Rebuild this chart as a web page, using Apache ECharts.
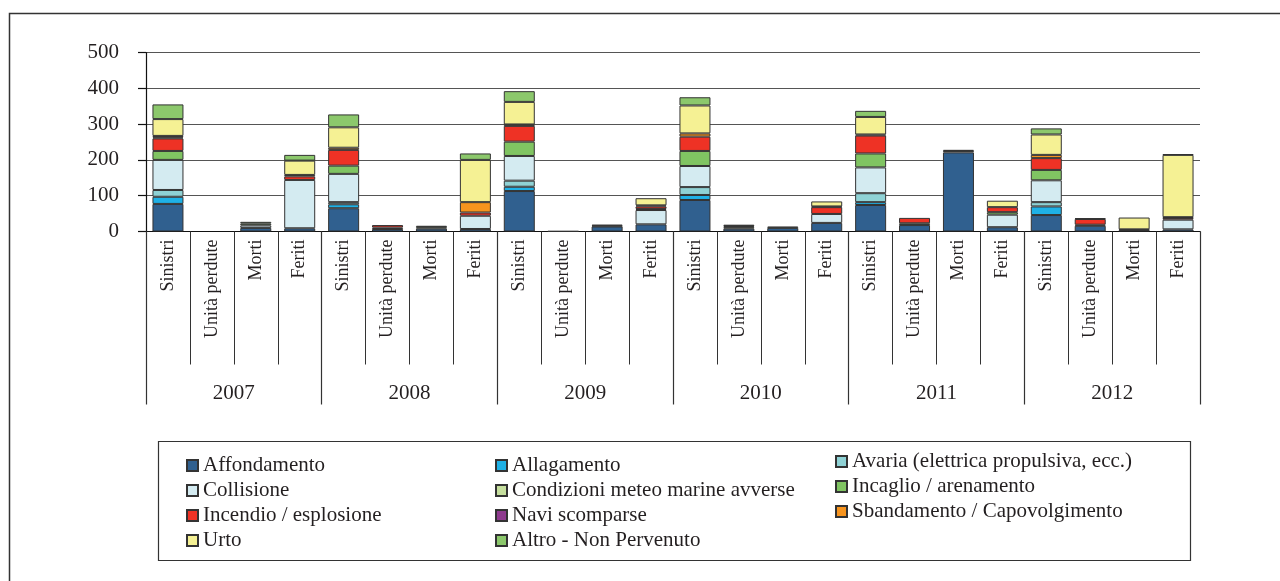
<!DOCTYPE html>
<html>
<head>
<meta charset="utf-8">
<script src="https://cdn.jsdelivr.net/npm/echarts@6/dist/echarts.min.js"></script>
<style>
  html, body { margin: 0; padding: 0; background: #fff; }
  #chart { width: 1280px; height: 581px; }
</style>
</head>
<body>
<div id="chart"></div>
<script>
const years = ["2007", "2008", "2009", "2010", "2011", "2012"];
const kinds = ["Sinistri", "Unità perdute", "Morti", "Feriti"];
const categories = years.flatMap(() => kinds);

const affondamento = [77, 0, 10, 9, 65, 7, 8, 7, 113, 1, 14, 20, 88, 8, 10, 24, 74, 18, 221, 12, 46, 16, 4, 6];
const allagamento = [20, 0, 0, 0, 11, 0, 0, 0, 12, 0, 0, 0, 14, 0, 0, 0, 8, 0, 0, 0, 24, 0, 0, 0];
const avaria = [19, 0, 0, 0, 6, 0, 0, 0, 17, 0, 0, 0, 22, 0, 0, 0, 25, 0, 0, 0, 12, 0, 0, 0];
const collisione = [84, 0, 7, 135, 79, 4, 0, 37, 69, 0, 2, 40, 59, 0, 0, 25, 72, 0, 0, 35, 61, 0, 2, 27];
const condizioni = [0, 0, 0, 0, 0, 0, 0, 0, 0, 0, 0, 0, 0, 0, 0, 0, 0, 0, 0, 0, 0, 0, 0, 0];
const incaglio = [25, 0, 5, 0, 23, 0, 4, 0, 40, 0, 0, 3, 42, 4, 0, 0, 39, 5, 4, 7, 29, 3, 0, 0];
const incendio = [35, 0, 0, 10, 44, 7, 0, 9, 44, 0, 0, 7, 40, 0, 0, 19, 50, 15, 0, 14, 33, 16, 0, 5];
const naviScomparse = [3, 0, 0, 0, 0, 0, 0, 0, 0, 0, 0, 0, 0, 3, 0, 2, 3, 0, 3, 0, 0, 0, 0, 0];
const sbandamento = [4, 0, 0, 4, 6, 0, 0, 29, 4, 0, 0, 3, 9, 0, 0, 0, 0, 0, 0, 0, 9, 0, 0, 2];
const urto = [47, 0, 0, 40, 57, 0, 0, 118, 63, 0, 0, 20, 78, 0, 0, 14, 49, 0, 0, 18, 57, 0, 33, 174];
const altro = [41, 0, 5, 16, 36, 0, 4, 18, 30, 0, 3, 0, 23, 4, 4, 0, 17, 0, 0, 0, 17, 2, 0, 2];

const yTicks = [0, 100, 200, 300, 400, 500];

const seriesDefs = [
  ["Affondamento", affondamento, "#30608f"],
  ["Allagamento", allagamento, "#1fb1e6"],
  ["Avaria (elettrica propulsiva, ecc.)", avaria, "#8fd2d5"],
  ["Collisione", collisione, "#d4ebf1"],
  ["Condizioni meteo marine avverse", condizioni, "#c6df9e"],
  ["Incaglio / arenamento", incaglio, "#80c462"],
  ["Incendio / esplosione", incendio, "#ee3225"],
  ["Navi scomparse", naviScomparse, "#8e3a8e"],
  ["Sbandamento / Capovolgimento", sbandamento, "#f7941e"],
  ["Urto", urto, "#f5f194"],
  ["Altro - Non Pervenuto", altro, "#8cc86c"]
];

const font = "Liberation Serif";
const ink = "#231f20";

const legendBase = {
  orient: "vertical",
  icon: "rect",
  padding: 0,
  itemWidth: 11,
  itemHeight: 11,
  itemGap: 4,
  selectedMode: false,
  textStyle: { fontFamily: font, fontSize: 21, color: ink, lineHeight: 20 }
};

const chart = echarts.init(document.getElementById("chart"));

chart.setOption({
  animation: false,
  backgroundColor: "#fff",
  graphic: [
    {
      type: "rect",
      shape: { x: 9.5, y: 13.5, width: 1300, height: 620 },
      style: { fill: null, stroke: "#333", lineWidth: 1.5 }
    },
    {
      type: "rect",
      shape: { x: 158.5, y: 441.5, width: 1032, height: 119 },
      style: { fill: null, stroke: "#333", lineWidth: 1.2 }
    }
  ],
  legend: [
    Object.assign({}, legendBase, {
      left: 186, top: 455,
      data: ["Affondamento", "Collisione", "Incendio / esplosione", "Urto"]
    }),
    Object.assign({}, legendBase, {
      left: 495, top: 455,
      data: ["Allagamento", "Condizioni meteo marine avverse", "Navi scomparse", "Altro - Non Pervenuto"]
    }),
    Object.assign({}, legendBase, {
      left: 835, top: 451,
      data: ["Avaria (elettrica propulsiva, ecc.)", "Incaglio / arenamento", "Sbandamento / Capovolgimento"]
    })
  ],
  grid: { left: 146, right: 80, top: 52.5, bottom: 349.5, containLabel: false },
  xAxis: [
    {
      type: "category",
      data: categories,
      axisLine: { lineStyle: { color: "#111", width: 1.2 } },
      axisTick: { show: true, length: 133, interval: 0, lineStyle: { color: "#333", width: 1 } },
      axisLabel: {
        interval: 0, rotate: 90, margin: 8,
        fontFamily: font, fontSize: 18, color: ink
      }
    },
    {
      type: "category",
      data: years,
      position: "bottom",
      axisLine: { show: false },
      axisTick: { show: true, length: 173, interval: 0, lineStyle: { color: "#333", width: 1.2 } },
      axisLabel: {
        interval: 0, margin: 151,
        fontFamily: font, fontSize: 21, color: ink
      }
    }
  ],
  yAxis: {
    type: "value",
    min: yTicks[0],
    max: yTicks[yTicks.length - 1],
    interval: 100,
    axisLine: { show: true, lineStyle: { color: "#111", width: 1.2 } },
    axisTick: { show: true, length: 8, lineStyle: { color: "#111", width: 1.2 } },
    axisLabel: { margin: 27, fontFamily: font, fontSize: 21, color: ink },
    splitLine: { show: true, lineStyle: { color: "#555", width: 1.2 } }
  },
  series: seriesDefs.map(([name, values, color]) => ({
    name,
    type: "bar",
    stack: "total",
    xAxisIndex: 0,
    barWidth: 31,
    data: values.map(v => (v === 0 ? null : v)),
    itemStyle: { color, borderColor: "#333", borderWidth: 1 }
  }))
});
</script>
</body>
</html>
